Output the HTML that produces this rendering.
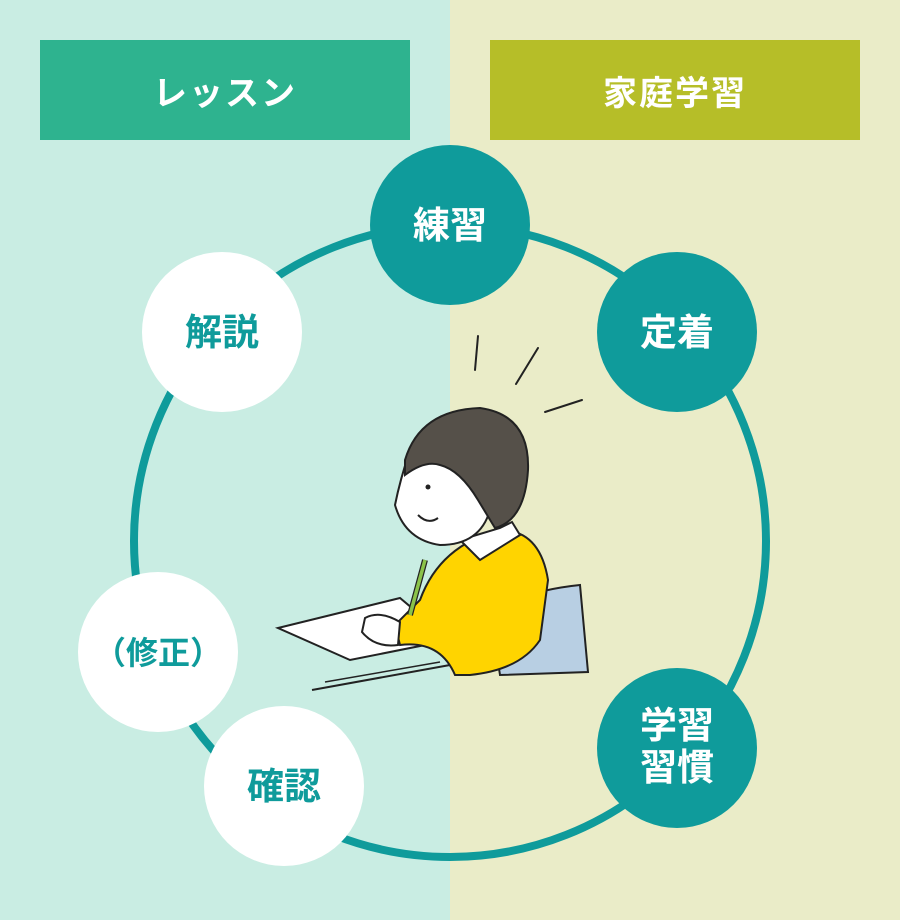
<!DOCTYPE html>
<html><head><meta charset="utf-8"><style>
html,body{margin:0;padding:0}
body{width:900px;height:920px;position:relative;overflow:hidden;font-family:"Liberation Sans","Noto Sans CJK JP",sans-serif}
.l{position:absolute;left:0;top:0;width:450px;height:920px;background:#c9ede3}
.r{position:absolute;left:450px;top:0;width:450px;height:920px;background:#eaecc8}
.h{position:absolute;top:40px;width:370px;height:100px;color:#fff;font-weight:bold;font-size:34px;display:flex;align-items:center;justify-content:center;letter-spacing:2px}
</style></head><body>
<div class="l"></div><div class="r"></div>
<div class="h" style="left:40px;background:#2eb38f">レッスン</div>
<div class="h" style="left:490px;background:#b6be28">家庭学習</div>
<svg width="900" height="920" style="position:absolute;left:0;top:0" font-family="Liberation Sans, Noto Sans CJK JP, sans-serif" font-weight="bold">
<circle cx="450" cy="541" r="316" fill="none" stroke="#0f9b9b" stroke-width="8"/>
<g stroke="#222" stroke-width="2" stroke-linecap="round">
<line x1="478" y1="336" x2="475" y2="370"/>
<line x1="538" y1="348" x2="516" y2="384"/>
<line x1="582" y1="400" x2="545" y2="412"/>
</g>
<polygon points="278,628 400,598 450,640 350,660" fill="#fff" stroke="#222" stroke-width="2"/>
<line x1="312" y1="690" x2="450" y2="665" stroke="#222" stroke-width="2"/>
<line x1="325" y1="682" x2="440" y2="662" stroke="#222" stroke-width="1.5"/>
<path d="M490 610 Q530 590 580 585 L588 672 L500 675 Z" fill="#b8cfe3" stroke="#222" stroke-width="2"/>
<path d="M420 600 Q440 545 500 530 Q540 530 548 580 L540 640 Q520 670 470 675 L455 675 Q440 640 400 645 L395 625 Q410 610 420 600Z" fill="#ffd400" stroke="#222" stroke-width="2"/>
<path d="M460 540 L500 528 L512 522 L520 535 L480 560 Z" fill="#fff" stroke="#222" stroke-width="2"/>
<line x1="425" y1="560" x2="410" y2="615" stroke="#222" stroke-width="6"/>
<line x1="425" y1="560" x2="410" y2="615" stroke="#8bc34a" stroke-width="3.5"/>
<path d="M365 618 Q380 610 400 622 L398 645 Q375 648 362 632Z" fill="#fff" stroke="#222" stroke-width="2"/>
<path d="M410 450 Q400 480 395 505 Q405 540 440 545 Q480 545 490 510 Q500 470 470 450Z" fill="#fff" stroke="#222" stroke-width="2"/>
<path d="M405 460 Q420 410 480 408 Q530 415 528 470 Q525 520 495 528 L478 500 Q460 470 440 465 Q425 460 405 475Z" fill="#555049" stroke="#222" stroke-width="2"/>
<circle cx="428" cy="487" r="2.5" fill="#222"/>
<path d="M418 515 Q428 525 438 518" fill="none" stroke="#222" stroke-width="2"/>
<g font-size="37" text-anchor="middle">
<circle cx="450" cy="225" r="80" fill="#0f9b9b"/><text x="450" y="238" fill="#fff">練習</text>
<circle cx="677" cy="332" r="80" fill="#0f9b9b"/><text x="677" y="345" fill="#fff">定着</text>
<circle cx="677" cy="748" r="80" fill="#0f9b9b"/><text x="677" y="738" fill="#fff">学習</text><text x="677" y="780" fill="#fff">習慣</text>
<circle cx="222" cy="332" r="80" fill="#fff"/><text x="222" y="345" fill="#0f9b9b">解説</text>
<circle cx="158" cy="652" r="80" fill="#fff"/><text x="158" y="664" fill="#0f9b9b" font-size="32">（修正）</text>
<circle cx="284" cy="786" r="80" fill="#fff"/><text x="284" y="799" fill="#0f9b9b">確認</text>
</g>
</svg>
</body></html>
